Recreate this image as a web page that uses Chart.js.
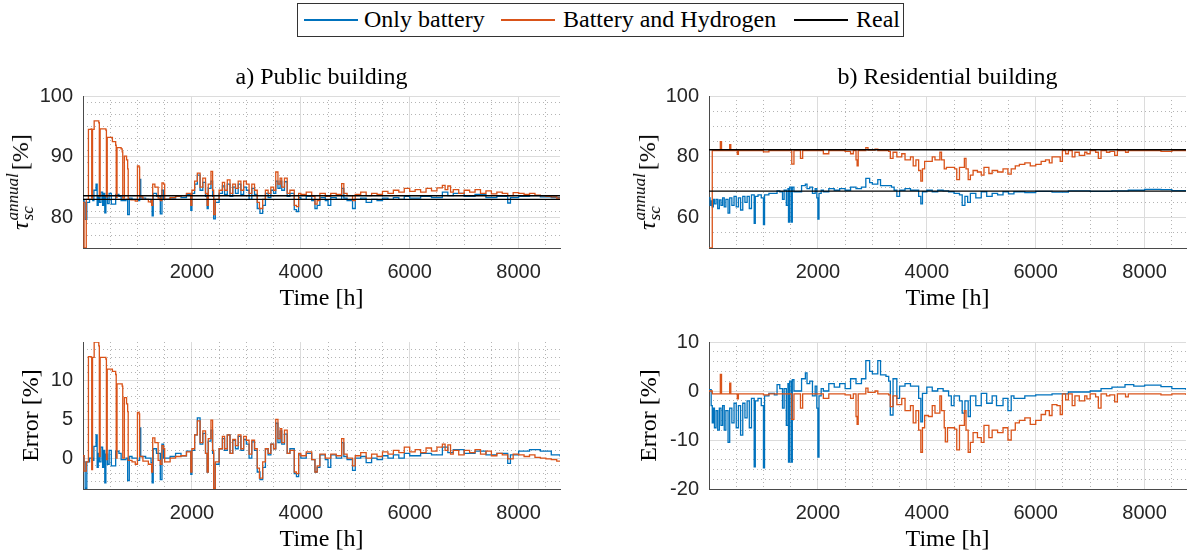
<!DOCTYPE html>
<html>
<head>
<meta charset="utf-8">
<script src="https://cdn.jsdelivr.net/npm/chart.js@4.4.1/dist/chart.umd.min.js"></script>
<style>
  html, body { margin: 0; padding: 0; background: #fff; }
  #fig { position: relative; width: 1192px; height: 556px; overflow: hidden; font-family: "Liberation Serif", serif; }
  canvas { position: absolute; }
  #legend { position: absolute; left: 297px; top: 3px; width: 607px; height: 34px; box-sizing: border-box; border: 1px solid #333; background: #fff; z-index: 2; }
  .lg-line { position: absolute; top: 15px; height: 2px; width: 54px; }
  .lg-text { position: absolute; top: 1px; font-size: 24px; line-height: 29px; color: #000; white-space: nowrap; }
  .tau-label { position: absolute; transform: translate(-50%, -50%) rotate(-90deg); white-space: nowrap; font-size: 24px; color: #000; z-index: 2; }
  .tau-label .tau { font-style: italic; }
  .tau-label .scr { display: inline-flex; flex-direction: column; font-style: italic; font-size: 17px; line-height: 15px; vertical-align: 10px; margin: 0 3px 0 1px; }
</style>
</head>
<body>
<div id="fig">
  <div id="legend">
    <div class="lg-line" style="left:6px;background:#0072BD"></div>
    <div class="lg-text" style="left:66px">Only battery</div>
    <div class="lg-line" style="left:203px;background:#D95319"></div>
    <div class="lg-text" style="left:265px">Battery and Hydrogen</div>
    <div class="lg-line" style="left:496px;background:#000"></div>
    <div class="lg-text" style="left:558px">Real</div>
  </div>
  <div class="tau-label" style="left:20px;top:182px"><span class="tau">τ</span><span class="scr"><span>annual</span><span>sc</span></span>[%]</div>
  <div class="tau-label" style="left:647px;top:182px"><span class="tau">τ</span><span class="scr"><span>annual</span><span>sc</span></span>[%]</div>
  <canvas id="pubTau" width="596" height="261" style="left:0;top:59px"></canvas>
  <canvas id="resTau" width="596" height="261" style="left:596px;top:59px"></canvas>
  <canvas id="pubErr" width="596" height="236" style="left:0;top:320px"></canvas>
  <canvas id="resErr" width="596" height="236" style="left:596px;top:320px"></canvas>
</div>
<script>
// time axis
const timeMax = 8760;
const timeTicks = [2000, 4000, 6000, 8000];

// a) public building, self-consumption [%]  ([hour, value])
const pubReal = [83.0, 83.6];
const pubHydrogenTau = [[0,82.5],[20,75],[60,83],[100,94.5],[150,94.6],[160,83.2],[175,94.5],[205,95.9],[290,95.6],[300,83.5],[315,94.6],[420,94.4],[430,83.4],[445,93.2],[540,92.5],[600,91.9],[610,83.3],[625,91.5],[700,91.3],[720,90.8],[730,83.2],[760,90.1],[800,89.5],[820,88.0],[830,83.0],[880,82.9],[960,82.7],[1000,88.5],[1030,88.3],[1040,83.4],[1100,83.0],[1200,82.6],[1250,82.9],[1260,82.0],[1280,85.5],[1320,85.0],[1380,83.2],[1420,82.8],[1450,85.7],[1480,85.5],[1500,83.0],[1600,83.3],[1700,83.5],[1800,83.6],[1900,84.0],[1980,82.0],[2000,84.5],[2050,86.0],[2100,87.3],[2150,85.0],[2200,86.5],[2250,84.0],[2280,82.0],[2300,85.5],[2350,87.6],[2380,84.5],[2400,80.5],[2430,83.0],[2500,84.5],[2560,85.8],[2600,84.5],[2650,86.2],[2700,84.0],[2750,85.5],[2800,84.8],[2850,86.0],[2900,84.5],[2950,86.0],[3000,85.5],[3050,84.0],[3100,85.5],[3150,84.5],[3200,82.5],[3240,81.5],[3300,83.0],[3350,84.5],[3400,84.0],[3450,85.0],[3500,84.5],[3540,87.5],[3580,85.5],[3620,86.5],[3650,85.0],[3700,86.5],[3750,84.0],[3800,84.5],[3880,82.0],[3920,81.8],[3960,84.0],[4000,83.8],[4100,84.2],[4200,83.5],[4260,82.2],[4300,82.8],[4350,84.0],[4450,83.5],[4550,84.0],[4650,83.8],[4750,85.6],[4790,84.0],[4850,83.6],[4950,82.8],[5000,83.8],[5100,84.2],[5200,83.6],[5300,84.0],[5400,83.8],[5500,84.3],[5600,84.0],[5700,84.5],[5800,84.2],[5900,84.8],[6000,84.3],[6100,84.6],[6200,84.2],[6300,84.8],[6400,84.4],[6500,84.9],[6600,85.3],[6650,84.6],[6700,85.2],[6750,84.2],[6800,84.6],[6900,84.0],[7000,84.5],[7100,84.2],[7200,84.6],[7300,84.0],[7400,84.4],[7500,83.9],[7600,84.2],[7700,84.0],[7800,83.6],[7900,84.1],[8000,84.0],[8100,83.8],[8200,84.0],[8300,83.7],[8400,83.6],[8500,83.5],[8600,83.4],[8700,83.2],[8760,83.2]];
const pubBatteryTau = [[0,83.0],[20,82.5],[40,79.7],[70,82.5],[120,83.0],[180,82.8],[200,84.5],[240,85.5],[260,82.0],[280,83.5],[300,82.5],[330,84.2],[360,82.0],[380,84.0],[400,80.8],[420,83.5],[450,82.3],[480,84.0],[520,82.2],[600,83.8],[660,83.5],[700,82.8],[790,83.0],[820,80.5],[850,83.2],[900,83.0],[1000,82.8],[1040,86.3],[1060,83.2],[1150,83.0],[1250,82.5],[1270,80.3],[1290,84.0],[1350,83.5],[1420,80.6],[1450,84.5],[1480,83.0],[1600,83.2],[1700,83.5],[1800,83.3],[1900,83.8],[1980,81.2],[2000,84.0],[2050,85.5],[2100,87.0],[2150,84.5],[2200,85.8],[2250,83.5],[2280,81.5],[2300,84.8],[2350,86.0],[2380,83.5],[2400,79.8],[2430,82.5],[2500,84.0],[2560,85.2],[2600,83.8],[2650,85.5],[2700,83.5],[2750,85.0],[2800,84.0],[2850,85.5],[2900,83.8],[2950,85.0],[3000,84.5],[3050,83.0],[3100,84.8],[3150,83.8],[3200,81.5],[3250,80.7],[3300,82.0],[3350,84.0],[3400,83.3],[3450,84.5],[3500,84.0],[3540,86.0],[3580,84.8],[3620,86.0],[3650,84.5],[3700,85.9],[3750,83.5],[3800,84.0],[3880,81.3],[3920,81.0],[3960,83.3],[4000,83.0],[4100,83.5],[4200,82.8],[4260,81.5],[4300,82.0],[4350,83.3],[4450,82.8],[4500,82.0],[4550,83.3],[4650,83.0],[4750,84.8],[4790,83.2],[4850,82.8],[4950,81.5],[5000,83.0],[5100,83.2],[5200,82.5],[5300,83.0],[5400,82.8],[5500,83.2],[5600,83.0],[5700,83.3],[5800,83.0],[5900,83.5],[6000,83.2],[6200,83.5],[6400,83.3],[6600,84.2],[6700,83.6],[6800,84.0],[7000,83.5],[7200,83.8],[7400,83.3],[7600,83.5],[7800,82.4],[7850,83.3],[8000,83.5],[8200,83.6],[8400,83.4],[8600,83.3],[8760,83.3]];

// a) public building, error [%]
const pubHydrogenErr = [[0,0.3],[20,-1.7],[60,-0.5],[100,13.1],[150,13.0],[160,-1.5],[175,13.0],[205,15.0],[290,14.5],[300,0.2],[315,13.0],[420,12.8],[430,-0.2],[445,11.5],[540,11.2],[600,10.8],[610,0.0],[625,9.6],[720,9.3],[730,0.0],[760,7.8],[800,7.0],[820,6.0],[830,-0.3],[900,-0.5],[960,-0.8],[1000,5.9],[1030,5.7],[1040,0.2],[1100,-0.4],[1200,-0.8],[1260,-1.8],[1280,2.6],[1320,2.0],[1380,-0.3],[1420,-0.8],[1450,1.6],[1480,1.2],[1500,-0.5],[1600,0.0],[1700,0.2],[1800,0.3],[1900,0.8],[1980,-1.8],[2000,1.2],[2050,3.0],[2100,4.8],[2150,2.0],[2200,3.5],[2250,0.6],[2280,-1.8],[2300,2.5],[2350,4.9],[2380,1.0],[2400,-3.9],[2430,-0.5],[2500,1.2],[2560,2.8],[2600,1.2],[2650,3.0],[2700,0.6],[2750,2.4],[2800,1.6],[2850,3.0],[2900,1.2],[2950,2.8],[3000,2.3],[3050,0.5],[3100,2.3],[3150,1.2],[3200,-1.3],[3240,-2.6],[3300,-0.5],[3350,1.2],[3400,0.6],[3450,1.8],[3500,1.2],[3540,5.0],[3580,2.5],[3620,3.8],[3650,2.0],[3700,3.6],[3750,0.6],[3800,1.0],[3880,-1.8],[3920,-2.0],[3960,0.6],[4000,0.3],[4100,0.8],[4200,-0.2],[4260,-1.8],[4300,-1.0],[4350,0.5],[4450,0.0],[4550,0.5],[4650,0.3],[4750,2.5],[4790,0.5],[4850,0.0],[4950,-1.0],[5000,0.3],[5100,0.7],[5200,0.0],[5300,0.5],[5400,0.2],[5500,0.8],[5600,0.5],[5700,1.0],[5800,0.7],[5900,1.4],[6000,0.8],[6100,1.1],[6200,0.7],[6300,1.3],[6400,0.9],[6500,1.4],[6600,1.8],[6650,1.0],[6700,1.7],[6750,0.5],[6800,1.0],[6900,0.4],[7000,1.0],[7100,0.7],[7200,1.1],[7300,0.5],[7400,0.9],[7500,0.3],[7600,0.6],[7700,0.4],[7800,-0.1],[7900,0.5],[8000,0.4],[8100,0.2],[8200,0.4],[8300,0.1],[8400,0.0],[8500,-0.1],[8600,-0.2],[8700,-0.4],[8760,-0.4]];
const pubBatteryErr = [[0,0.3],[20,-0.5],[40,-3.9],[70,-0.5],[120,0.0],[180,-0.3],[200,1.5],[240,3.0],[260,-1.2],[280,0.6],[300,-0.5],[330,1.4],[360,-1.2],[380,1.0],[400,-3.2],[420,0.5],[450,-0.8],[480,1.0],[520,-1.0],[600,0.9],[660,0.6],[700,-0.2],[790,0.0],[820,-2.9],[850,0.2],[900,0.0],[1000,-0.3],[1040,3.9],[1060,0.2],[1150,0.0],[1250,-0.6],[1270,-3.2],[1290,1.2],[1350,0.6],[1420,-2.8],[1450,1.8],[1480,0.0],[1600,0.2],[1700,0.6],[1800,0.3],[1900,0.9],[1980,-2.1],[2000,1.0],[2050,3.0],[2100,5.2],[2150,1.8],[2200,3.2],[2250,0.6],[2280,-1.8],[2300,2.2],[2350,3.6],[2380,0.6],[2400,-3.9],[2430,-0.8],[2500,1.2],[2560,2.5],[2600,1.0],[2650,3.0],[2700,0.6],[2750,2.3],[2800,1.2],[2850,2.8],[2900,1.0],[2950,2.4],[3000,1.8],[3050,0.0],[3100,2.1],[3150,1.0],[3200,-1.8],[3250,-2.8],[3300,-1.2],[3350,1.2],[3400,0.4],[3450,1.8],[3500,1.2],[3540,4.5],[3580,2.0],[3620,3.5],[3650,1.8],[3700,3.1],[3750,0.6],[3800,1.2],[3880,-2.0],[3920,-2.4],[3960,0.4],[4000,0.0],[4100,0.6],[4200,-0.2],[4260,-1.8],[4300,-1.2],[4350,0.4],[4450,-0.2],[4500,-1.2],[4550,0.4],[4650,0.0],[4750,2.0],[4790,0.2],[4850,-0.2],[4950,-1.6],[5000,0.0],[5100,0.2],[5200,-0.6],[5300,0.0],[5400,-0.2],[5500,0.3],[5600,0.0],[5700,0.4],[5800,0.0],[5900,0.6],[6000,0.3],[6200,0.6],[6400,0.4],[6600,1.4],[6700,0.7],[6800,1.1],[7000,0.6],[7200,0.9],[7400,0.4],[7600,0.6],[7800,-0.7],[7850,0.4],[8000,0.9],[8200,1.1],[8400,0.9],[8600,0.4],[8760,0.2]];

// b) residential building, self-consumption [%]
const resReal = [68.7, 82.3];
const resHydrogenTau = [[0,50],[55,50],[60,82.0],[200,82.0],[208,85.0],[230,82.0],[370,82.0],[380,84.0],[400,82.0],[520,80.8],[540,82.0],[900,82.0],[1000,81.6],[1100,82.0],[1500,82.0],[1520,77.6],[1560,82.0],[1680,79.5],[1720,82.0],[2000,82.0],[2100,81.0],[2200,82.0],[2500,81.8],[2600,81.0],[2650,82.0],[2700,79.0],[2720,77.0],[2740,82.0],[2880,83.0],[2920,82.2],[3050,82.5],[3100,82.0],[3300,81.8],[3330,79.5],[3380,81.5],[3450,80.0],[3540,81.0],[3600,79.0],[3700,80.0],[3750,77.0],[3800,79.0],[3850,75.5],[3890,72.0],[3920,76.0],[3960,78.5],[4030,78.5],[4100,80.0],[4150,79.0],[4240,81.5],[4270,79.0],[4320,76.0],[4360,76.5],[4450,76.5],[4510,76.0],[4550,72.5],[4600,76.5],[4690,79.5],[4720,76.0],[4760,72.5],[4800,74.0],[4850,75.5],[4930,75.0],[5000,74.0],[5050,76.5],[5140,74.5],[5200,75.5],[5300,75.0],[5400,76.0],[5490,74.3],[5550,76.0],[5625,77.0],[5700,77.5],[5800,78.0],[5900,77.0],[6000,77.5],[6100,78.5],[6180,79.0],[6250,78.0],[6300,80.0],[6390,80.0],[6450,78.5],[6490,82.0],[6550,81.0],[6600,82.0],[6670,80.0],[6720,81.5],[6800,80.5],[6900,81.5],[6940,81.0],[7000,82.0],[7100,81.5],[7150,79.5],[7200,82.0],[7300,81.5],[7360,81.8],[7450,80.5],[7500,82.0],[7650,81.5],[7700,82.0],[8000,82.0],[8300,81.8],[8500,82.0],[8760,81.8]];
const resBatteryTau = [[0,66.5],[20,64.0],[40,65.5],[60,63.5],[80,66.0],[100,64.5],[130,66.0],[160,63.0],[190,65.8],[220,64.0],[250,66.5],[280,63.5],[310,66.0],[350,61.5],[380,66.5],[420,64.0],[460,67.0],[500,63.5],[540,66.5],[580,62.5],[620,67.0],[660,65.0],[700,67.0],[740,63.0],[780,67.5],[830,58.1],[850,67.0],[900,67.5],[960,66.5],[1000,57.7],[1020,67.5],[1100,68.0],[1200,68.0],[1250,68.8],[1300,68.5],[1350,66.0],[1380,69.0],[1420,64.0],[1450,69.5],[1460,58.5],[1480,70.0],[1510,58.5],[1530,70.0],[1560,68.5],[1600,68.5],[1700,70.5],[1770,71.0],[1800,69.5],[1850,70.0],[1900,68.0],[1950,69.5],[1980,66.5],[2000,59.5],[2020,68.0],[2060,69.0],[2100,68.5],[2200,69.5],[2300,69.0],[2400,69.5],[2500,69.0],[2600,70.0],[2700,69.5],[2800,70.0],[2880,72.9],[2950,71.5],[3000,71.0],[3100,72.5],[3150,70.5],[3250,70.5],[3350,70.0],[3400,69.0],[3450,67.0],[3500,69.0],[3600,69.5],[3700,69.0],[3800,69.0],[3850,67.0],[3890,64.5],[3920,68.5],[4000,69.0],[4100,68.5],[4200,69.0],[4300,68.8],[4400,68.5],[4500,68.0],[4600,67.5],[4650,64.0],[4700,67.0],[4750,65.0],[4800,68.0],[4900,66.5],[5000,68.5],[5100,67.0],[5200,68.0],[5300,67.5],[5400,68.5],[5500,67.8],[5600,68.5],[5800,68.2],[6000,68.6],[6300,68.4],[6600,68.8],[7000,68.6],[7400,68.8],[7700,69.0],[8000,69.3],[8300,69.2],[8500,68.9],[8760,68.8]];

// b) residential building, error [%]
const resHydrogenErr = [[0,0.0],[55,0.0],[60,-0.6],[200,-0.6],[208,3.4],[230,-0.6],[370,-0.6],[380,1.6],[400,-0.6],[520,-1.6],[540,-0.6],[900,-0.6],[1000,-0.8],[1100,-0.6],[1500,-0.6],[1520,-5.8],[1560,-0.6],[1680,-3.5],[1720,-0.6],[2000,-0.6],[2100,-1.5],[2200,-0.6],[2500,-0.8],[2600,-1.5],[2650,-0.6],[2700,-5.2],[2720,-6.8],[2740,-0.6],[2880,0.6],[2920,-0.3],[3050,0.0],[3100,-0.6],[3300,-0.8],[3330,-3.2],[3380,-1.0],[3450,-2.8],[3540,-1.5],[3600,-4.0],[3700,-3.0],[3750,-6.5],[3800,-4.0],[3850,-8.0],[3890,-12.5],[3920,-7.5],[3960,-5.0],[4030,-5.2],[4100,-3.0],[4150,-4.5],[4240,-1.0],[4270,-4.0],[4320,-7.5],[4340,-10.4],[4380,-7.5],[4450,-7.5],[4510,-7.8],[4550,-12.0],[4600,-7.0],[4690,-4.0],[4720,-8.0],[4760,-12.5],[4800,-10.5],[4850,-8.5],[4930,-9.5],[5000,-10.5],[5050,-7.0],[5140,-9.5],[5200,-8.0],[5300,-8.5],[5400,-7.5],[5490,-10.0],[5550,-8.0],[5625,-6.5],[5700,-6.0],[5800,-5.5],[5900,-6.8],[6000,-6.0],[6100,-4.8],[6180,-4.0],[6250,-5.0],[6300,-2.8],[6390,-3.0],[6450,-4.8],[6490,-0.6],[6550,-1.8],[6600,-0.6],[6670,-3.0],[6720,-1.0],[6800,-2.0],[6900,-1.0],[6940,-1.6],[7000,-0.6],[7100,-1.2],[7150,-3.5],[7200,-0.6],[7300,-1.0],[7360,-0.8],[7450,-2.2],[7500,-0.6],[7650,-1.2],[7700,-0.6],[8000,-0.6],[8300,-0.8],[8500,-0.6],[8760,-0.8]];
const resBatteryErr = [[0,0.3],[40,-3.0],[60,-6.5],[80,-3.5],[100,-7.5],[130,-4.0],[160,-8.0],[190,-3.5],[220,-7.0],[250,-3.0],[280,-8.0],[310,-4.0],[350,-10.5],[380,-3.5],[420,-6.5],[460,-2.5],[500,-7.5],[540,-3.0],[580,-9.0],[620,-2.5],[660,-5.5],[700,-2.0],[740,-7.5],[780,-1.5],[830,-15.5],[850,-2.0],[900,-1.5],[960,-3.0],[1000,-15.7],[1020,-1.0],[1100,-0.5],[1200,-0.8],[1250,1.3],[1300,0.5],[1350,-3.5],[1380,0.5],[1420,-7.0],[1450,1.5],[1460,-14.5],[1480,2.0],[1510,-14.5],[1530,2.3],[1560,0.0],[1600,0.0],[1700,2.5],[1770,3.7],[1800,1.5],[1850,2.0],[1900,-1.0],[1950,1.0],[1980,-3.5],[2000,-13.5],[2020,-1.0],[2060,0.5],[2100,0.0],[2200,1.5],[2300,0.8],[2400,1.5],[2500,0.5],[2600,2.5],[2700,1.5],[2800,2.5],[2880,6.2],[2950,4.0],[3000,3.5],[3100,6.2],[3150,3.3],[3250,3.0],[3300,2.0],[3330,-4.9],[3380,2.5],[3450,-1.5],[3500,1.0],[3600,1.5],[3700,1.0],[3800,1.0],[3850,-1.5],[3890,-6.3],[3920,-0.5],[4000,0.8],[4100,0.0],[4200,0.5],[4300,0.0],[4400,-1.0],[4450,-3.0],[4500,-1.0],[4600,-2.0],[4650,-4.5],[4700,-2.0],[4760,-5.2],[4800,-1.0],[4900,-3.0],[5000,-0.5],[5100,-2.5],[5200,-1.0],[5280,-3.0],[5400,-1.5],[5490,-4.0],[5550,-1.0],[5600,-1.5],[5800,-1.0],[6000,-0.8],[6300,-0.6],[6600,-0.2],[7000,0.0],[7200,0.5],[7400,0.8],[7640,1.3],[7800,1.0],[8000,1.2],[8300,0.9],[8500,0.5],[8760,0.2]];

const BLUE = "#0072BD";
const ORANGE = "#D95319";
const axisColor = "#4a4a4a";
const tickColor = "#262626";
const majorGrid = "#dcdcdc";
const minorGrid = "#b4b4b4";
const tickFont = { family: "'Liberation Sans', Arial, sans-serif", size: 20 };
const serifFont = { family: "'Liberation Serif', serif", size: 24, weight: "normal" };

function range(from, to, step) {
  const out = [];
  for (let v = from; v <= to + 1e-9; v += step) out.push(Math.round(v * 1000) / 1000);
  return out;
}

const toPoints = (pairs) => pairs.map(([x, y]) => ({ x, y }));

function makePanel(canvasId, p) {
  const xMinorTicks = range(500, timeMax, 500).filter((v) => !timeTicks.includes(v) && v < timeMax);
  const yMinorTicks = range(p.yMin, p.yMax, p.yMinorStep).filter((v) => !p.yTicks.includes(v) && v > p.yMin && v < p.yMax);

  const datasets = [];
  (p.reals || []).forEach((v) => {
    datasets.push({ data: [{ x: 0, y: v }, { x: timeMax, y: v }], borderColor: "#000", borderWidth: 1.4, pointRadius: 0, order: 0 });
  });
  datasets.push({ data: toPoints(p.hydrogen), borderColor: ORANGE, borderWidth: 1.3, pointRadius: 0, stepped: true, order: 1 });
  datasets.push({ data: toPoints(p.battery), borderColor: BLUE, borderWidth: 1.3, pointRadius: 0, stepped: true, order: 2 });

  return new Chart(document.getElementById(canvasId), {
    type: "line",
    data: { datasets },
    options: {
      responsive: false,
      animation: false,
      events: [],
      devicePixelRatio: 1,
      layout: { padding: { top: p.padTop, right: p.padRight, left: 0, bottom: 0 } },
      plugins: {
        legend: { display: false },
        tooltip: { enabled: false },
        title: {
          display: !!p.title,
          text: p.title,
          fullSize: false,
          color: "#000",
          font: serifFont,
          padding: { top: 4, bottom: 4.2 },
        },
      },
      scales: {
        x: {
          type: "linear",
          min: 0,
          max: timeMax,
          afterBuildTicks: (s) => { s.ticks = timeTicks.map((value) => ({ value })); },
          afterFit: (s) => { s.height = p.xHeight; },
          ticks: { font: tickFont, color: tickColor, padding: 12, maxRotation: 0, callback: (v) => String(v) },
          grid: { color: majorGrid, lineWidth: 1, drawTicks: false },
          border: { color: axisColor, width: 1 },
          title: { display: true, text: "Time [h]", color: "#000", font: serifFont, padding: { top: 0, bottom: p.xTitlePad } },
        },
        xMinor: {
          type: "linear",
          position: "bottom",
          min: 0,
          max: timeMax,
          afterBuildTicks: (s) => { s.ticks = xMinorTicks.map((value) => ({ value })); },
          afterFit: (s) => { s.height = 0; },
          ticks: { display: false },
          grid: { color: minorGrid, lineWidth: 1, drawTicks: false },
          border: { display: false, dash: [1, 3] },
        },
        y: {
          type: "linear",
          min: p.yMin,
          max: p.yMax,
          afterBuildTicks: (s) => { s.ticks = p.yTicks.map((value) => ({ value })); },
          afterFit: (s) => { s.width = p.yWidth; },
          ticks: { font: tickFont, color: tickColor, padding: 10, callback: (v) => String(v) },
          grid: { color: majorGrid, lineWidth: 1, drawTicks: false },
          border: { color: axisColor, width: 1 },
          title: {
            display: !!p.yTitle,
            text: p.yTitle || "",
            color: "#000",
            font: serifFont,
            padding: { top: p.yTitlePad || 0, bottom: 0 },
          },
        },
        yMinor: {
          type: "linear",
          position: "left",
          min: p.yMin,
          max: p.yMax,
          afterBuildTicks: (s) => { s.ticks = yMinorTicks.map((value) => ({ value })); },
          afterFit: (s) => { s.width = 0; },
          ticks: { display: false },
          grid: { color: minorGrid, lineWidth: 1, drawTicks: false },
          border: { display: false, dash: [1, 3] },
        },
      },
    },
  });
}

makePanel("pubTau", {
  title: "a) Public building",
  hydrogen: pubHydrogenTau, battery: pubBatteryTau, reals: pubReal,
  yMin: 75, yMax: 100, yTicks: [80, 90, 100], yMinorStep: 2,
  yWidth: 83, padTop: 0, padRight: 36, xHeight: 72, xTitlePad: 6.6,
});
makePanel("resTau", {
  title: "b) Residential building",
  hydrogen: resHydrogenTau, battery: resBatteryTau, reals: resReal,
  yMin: 50, yMax: 100, yTicks: [60, 80, 100], yMinorStep: 5,
  yWidth: 113, padTop: 0, padRight: 6, xHeight: 72, xTitlePad: 6.6,
});
makePanel("pubErr", {
  hydrogen: pubHydrogenErr, battery: pubBatteryErr,
  yMin: -4, yMax: 15, yTicks: [0, 5, 10], yMinorStep: 1,
  yTitle: "Error [%]", yTitlePad: 17.6,
  yWidth: 83, padTop: 17, padRight: 36, xHeight: 67, xTitlePad: 1.6,
});
makePanel("resErr", {
  hydrogen: resHydrogenErr, battery: resBatteryErr,
  yMin: -20, yMax: 10, yTicks: [-20, -10, 0, 10], yMinorStep: 2,
  yTitle: "Error [%]", yTitlePad: 39.6,
  yWidth: 113, padTop: 17, padRight: 6, xHeight: 67, xTitlePad: 1.6,
});
</script>
</body>
</html>
